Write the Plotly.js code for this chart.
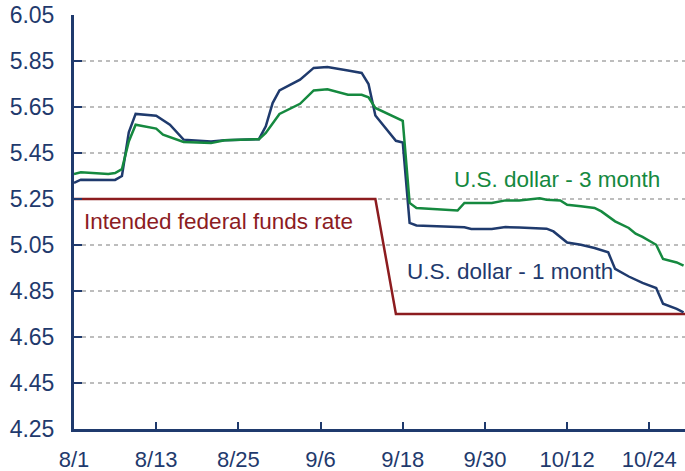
<!DOCTYPE html>
<html>
<head>
<meta charset="utf-8">
<script src="https://cdn.plot.ly/plotly-3.0.1.min.js"></script>
<style>html,body{margin:0;padding:0;background:#fff;}#chart{width:685px;height:471px;}</style>
</head>
<body>
<div id="chart"></div>
<script>
// Intended federal funds rate
const fedDates = ['2007-08-01','2007-09-14','2007-09-17','2007-10-31'];
const fedRate  = [5.25, 5.25, 4.75, 4.75];

// U.S. dollar - 1 month
const oneMonthDates = ['2007-08-01','2007-08-02','2007-08-07','2007-08-08','2007-08-09','2007-08-10','2007-08-13','2007-08-15','2007-08-17','2007-08-20','2007-08-21','2007-08-23','2007-08-28','2007-08-29','2007-08-30','2007-08-31','2007-09-03','2007-09-05','2007-09-07','2007-09-10','2007-09-12','2007-09-13','2007-09-14','2007-09-17','2007-09-18','2007-09-19','2007-09-20','2007-09-27','2007-09-28','2007-10-01','2007-10-03','2007-10-05','2007-10-08','2007-10-09','2007-10-10','2007-10-12','2007-10-14','2007-10-16','2007-10-18','2007-10-19','2007-10-21','2007-10-23','2007-10-25','2007-10-26','2007-10-28','2007-10-29'];
const oneMonth = [5.32,5.334,5.333,5.35,5.54,5.62,5.612,5.573,5.508,5.50,5.50,5.505,5.51,5.566,5.667,5.722,5.769,5.82,5.824,5.809,5.798,5.75,5.613,5.503,5.496,5.146,5.135,5.127,5.12,5.12,5.128,5.126,5.121,5.121,5.109,5.061,5.051,5.037,5.018,4.946,4.913,4.885,4.863,4.795,4.772,4.757];

// U.S. dollar - 3 month
const threeMonthDates = ['2007-08-01','2007-08-02','2007-08-06','2007-08-07','2007-08-08','2007-08-09','2007-08-10','2007-08-13','2007-08-14','2007-08-17','2007-08-21','2007-08-23','2007-08-28','2007-08-29','2007-08-31','2007-09-03','2007-09-05','2007-09-07','2007-09-10','2007-09-12','2007-09-13','2007-09-14','2007-09-18','2007-09-19','2007-09-20','2007-09-26','2007-09-27','2007-10-01','2007-10-03','2007-10-05','2007-10-08','2007-10-09','2007-10-11','2007-10-12','2007-10-14','2007-10-16','2007-10-17','2007-10-19','2007-10-21','2007-10-22','2007-10-23','2007-10-25','2007-10-26','2007-10-28','2007-10-29'];
const threeMonth = [5.359,5.366,5.359,5.363,5.38,5.50,5.573,5.556,5.53,5.498,5.493,5.505,5.51,5.537,5.62,5.664,5.722,5.727,5.703,5.703,5.692,5.646,5.59,5.233,5.211,5.20,5.233,5.233,5.244,5.244,5.253,5.247,5.244,5.225,5.218,5.211,5.196,5.153,5.124,5.099,5.085,5.051,4.989,4.974,4.96];

// Axis ticks
const xTickVals = ['2007-08-01','2007-08-13','2007-08-25','2007-09-06','2007-09-18','2007-09-30','2007-10-12','2007-10-24'];
const xTickText = ['8/1','8/13','8/25','9/6','9/18','9/30','10/12','10/24'];
const yTickVals = [4.25,4.45,4.65,4.85,5.05,5.25,5.45,5.65,5.85,6.05];
const yTickText = ['4.25','4.45','4.65','4.85','5.05','5.25','5.45','5.65','5.85','6.05'];

const NAVY = '#1f3a6d', GREEN = '#15893f', RED = '#8c1c1f';

const traces = [
  {x: fedDates, y: fedRate, mode: 'lines', line: {color: RED, width: 2.5}, name: 'Intended federal funds rate'},
  {x: oneMonthDates, y: oneMonth, mode: 'lines', line: {color: NAVY, width: 2.5}, name: 'U.S. dollar - 1 month'},
  {x: threeMonthDates, y: threeMonth, mode: 'lines', line: {color: GREEN, width: 2.5}, name: 'U.S. dollar - 3 month'}
];

const layout = {
  width: 685, height: 471,
  margin: {l: 74, r: 0, t: 15, b: 42},
  paper_bgcolor: '#fff', plot_bgcolor: '#fff',
  showlegend: false,
  font: {family: 'Liberation Sans, Arial, sans-serif', size: 22, color: NAVY},
  xaxis: {
    type: 'date',
    range: ['2007-08-01', '2007-10-29 05:00'],
    tickvals: xTickVals, ticktext: xTickText,
    ticks: 'inside', ticklen: 7, tickwidth: 2, tickcolor: NAVY,
    showline: true, linecolor: NAVY, linewidth: 3,
    showgrid: false, zeroline: false,
    ticklabelstandoff: 9,
    tickfont: {size: 22, color: NAVY}
  },
  yaxis: {
    range: [4.25, 6.05],
    tickvals: yTickVals, ticktext: yTickText,
    ticks: 'inside', ticklen: 8, tickwidth: 2, tickcolor: NAVY,
    showline: true, linecolor: NAVY, linewidth: 3,
    showgrid: true, gridcolor: '#bdbdbd', gridwidth: 2, griddash: '4px,4px',
    zeroline: false,
    ticklabelstandoff: 12,
    tickfont: {size: 23, color: NAVY}
  },
  annotations: [
    {xref: 'paper', yref: 'paper', x: 0.2357, y: 0.5007, text: 'Intended federal funds rate', showarrow: false, font: {size: 22.5, color: RED}, xanchor: 'center', yanchor: 'middle'},
    {xref: 'paper', yref: 'paper', x: 0.7905, y: 0.602, text: 'U.S. dollar - 3 month', showarrow: false, font: {size: 22.5, color: GREEN}, xanchor: 'center', yanchor: 'middle'},
    {xref: 'paper', yref: 'paper', x: 0.7136, y: 0.38, text: 'U.S. dollar - 1 month', showarrow: false, font: {size: 22.5, color: NAVY}, xanchor: 'center', yanchor: 'middle'}
  ]
};

Plotly.newPlot('chart', traces, layout, {displayModeBar: false, staticPlot: true});
</script>
</body>
</html>
